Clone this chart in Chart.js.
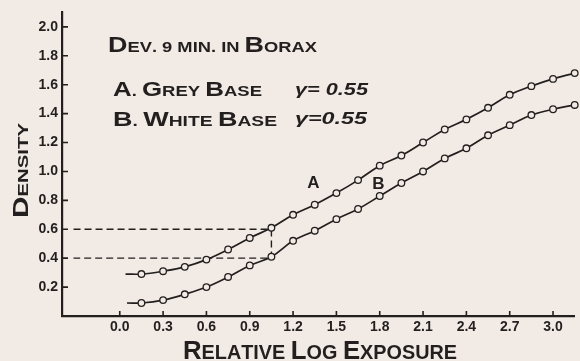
<!DOCTYPE html>
<html>
<head>
<meta charset="utf-8">
<script src="https://cdn.jsdelivr.net/npm/chart.js@4.4.0/dist/chart.umd.min.js"></script>
<style>
  html, body { margin: 0; padding: 0; background: #f1eae5; }
  #wrap { width: 580px; height: 361px; }
</style>
</head>
<body>
<div id="wrap"><canvas id="curves" width="580" height="361"></canvas></div>
<script>
// Characteristic curves, density vs relative log exposure
const exposure = [0.15, 0.30, 0.45, 0.60, 0.75, 0.90, 1.05, 1.20, 1.35, 1.50, 1.65,
                  1.80, 1.95, 2.10, 2.25, 2.40, 2.55, 2.70, 2.85, 3.00, 3.15];
const densityGrey = [0.29, 0.31, 0.34, 0.39, 0.46, 0.54, 0.61, 0.70, 0.77, 0.85, 0.94,
                     1.04, 1.11, 1.20, 1.29, 1.36, 1.44, 1.53, 1.59, 1.64, 1.68];
const densityWhite = [0.09, 0.11, 0.15, 0.20, 0.27, 0.35, 0.41, 0.52, 0.59, 0.67, 0.74,
                      0.83, 0.92, 1.00, 1.09, 1.16, 1.25, 1.32, 1.39, 1.43, 1.46];
// toe of each curve is drawn a little to the left of the first reading
const toeGrey = [0.04, 0.29];
const toeWhite = [0.05, 0.09];
const guideExposure = [-0.32, 1.05];
const guideDensity = [0.6, 0.4];

const xTicks = [0.0, 0.3, 0.6, 0.9, 1.2, 1.5, 1.8, 2.1, 2.4, 2.7, 3.0];
const yTicks = [0.2, 0.4, 0.6, 0.8, 1.0, 1.2, 1.4, 1.6, 1.8, 2.0];

const INK = '#231f1f';
const PAPER = '#f1eae5';
const FACE = '"Liberation Sans", "DejaVu Sans", sans-serif';

function curve(toe, values) {
  return [{ x: toe[0], y: toe[1] }].concat(exposure.map((x, i) => ({ x: x, y: values[i] })));
}

// capitals large, everything else as smaller capitals, squeezed to a given width
function smallCaps(ctx, text, x, y, big, small, width) {
  const parts = [...text].map(ch => ({
    ch: ch.toUpperCase(),
    font: `bold ${ch >= 'A' && ch <= 'Z' ? big : small}px ${FACE}`
  }));
  let natural = 0;
  parts.forEach(p => { ctx.font = p.font; p.w = ctx.measureText(p.ch).width; natural += p.w; });
  ctx.save();
  ctx.translate(x, y);
  ctx.scale(width / natural, 1);
  ctx.textBaseline = 'alphabetic';
  ctx.textAlign = 'left';
  let cx = 0;
  parts.forEach(p => { ctx.font = p.font; ctx.fillText(p.ch, cx, 0); cx += p.w; });
  ctx.restore();
}

function fitText(ctx, text, font, x, y, width) {
  ctx.save();
  ctx.font = font;
  const natural = ctx.measureText(text).width;
  ctx.translate(x, y);
  ctx.scale(width / natural, 1);
  ctx.textBaseline = 'alphabetic';
  ctx.textAlign = 'left';
  ctx.fillText(text, 0, 0);
  ctx.restore();
}

const lettering = {
  id: 'lettering',
  afterDraw(chart) {
    const ctx = chart.ctx;
    const xs = chart.scales.x, ys = chart.scales.y;
    const area = chart.chartArea;
    ctx.save();
    ctx.fillStyle = INK;
    ctx.strokeStyle = INK;

    // tick marks point into the plot
    ctx.lineWidth = 1.6;
    ctx.beginPath();
    xs.ticks.forEach(t => {
      const px = xs.getPixelForValue(t.value);
      ctx.moveTo(px, area.bottom);
      ctx.lineTo(px, area.bottom - 5);
    });
    ys.ticks.forEach(t => {
      const py = ys.getPixelForValue(t.value);
      ctx.moveTo(area.left, py);
      ctx.lineTo(area.left + 6, py);
    });
    ctx.stroke();

    smallCaps(ctx, 'Dev. 9 min. in Borax', 108, 52, 22, 15, 209);
    smallCaps(ctx, 'A. Grey Base', 113, 96, 21, 15, 149);
    smallCaps(ctx, 'B. White Base', 113, 126, 21, 15, 164);

    fitText(ctx, 'γ= 0.55', `italic bold 17px ${FACE}`, 295, 95, 73);
    fitText(ctx, 'γ=0.55', `italic bold 17px ${FACE}`, 295, 124, 72);

    smallCaps(ctx, 'Relative Log Exposure', 183, 359, 26, 20, 274);

    ctx.save();
    ctx.translate(28, 218);
    ctx.rotate(-Math.PI / 2);
    smallCaps(ctx, 'Density', 0, 0, 22, 15, 95);
    ctx.restore();

    // curve letters
    ctx.font = `bold 17px ${FACE}`;
    ctx.textAlign = 'center';
    ctx.textBaseline = 'middle';
    ctx.fillText('A', xs.getPixelForValue(1.34), ys.getPixelForValue(0.92));
    ctx.fillText('B', xs.getPixelForValue(1.79), ys.getPixelForValue(0.91));
    ctx.restore();
  }
};

const guide = [
  { x: guideExposure[0], y: guideDensity[0] },
  { x: guideExposure[1], y: guideDensity[0] },
  { x: guideExposure[1], y: guideDensity[1] },
  { x: guideExposure[0], y: guideDensity[1] }
];

const curveStyle = {
  borderColor: INK,
  borderWidth: 1.7,
  pointRadius: ctx => ctx.dataIndex === 0 ? 0 : 3.3,
  pointBorderWidth: 1.3,
  pointBorderColor: INK,
  pointBackgroundColor: PAPER,
  tension: 0.4,
  order: 1
};

new Chart(document.getElementById('curves'), {
  type: 'line',
  data: {
    datasets: [
      Object.assign({ label: 'A. Grey Base', data: curve(toeGrey, densityGrey) }, curveStyle),
      Object.assign({ label: 'B. White Base', data: curve(toeWhite, densityWhite) }, curveStyle),
      {
        label: 'guide',
        data: guide,
        borderColor: INK,
        borderWidth: 1.4,
        borderDash: [7, 4],
        pointRadius: 0,
        tension: 0,
        order: 5
      }
    ]
  },
  options: {
    responsive: false,
    animation: false,
    devicePixelRatio: 1,
    clip: false,
    layout: { padding: { top: 10, right: 2, left: 0, bottom: 0 } },
    plugins: { legend: { display: false }, tooltip: { enabled: false } },
    scales: {
      x: {
        type: 'linear',
        min: -0.4,
        max: 3.15,
        afterBuildTicks: s => { s.ticks = xTicks.map(v => ({ value: v })); },
        afterFit: s => { s.height = 45; },
        grid: { display: false, drawTicks: false },
        border: { display: true, color: INK, width: 2.2 },
        ticks: {
          autoSkip: false,
          maxRotation: 0,
          padding: 3,
          color: INK,
          font: { family: FACE, size: 14, weight: 'bold' },
          callback: v => v.toFixed(1)
        }
      },
      y: {
        type: 'linear',
        min: 0,
        max: 2.1,
        afterBuildTicks: s => { s.ticks = yTicks.map(v => ({ value: v })); },
        afterFit: s => { s.width = 62; },
        grid: { display: false, drawTicks: false },
        border: { display: true, color: INK, width: 2.2 },
        ticks: {
          padding: 4,
          color: INK,
          font: { family: FACE, size: 14, weight: 'bold' },
          callback: v => v.toFixed(1)
        }
      }
    }
  },
  plugins: [lettering]
});
</script>
</body>
</html>
